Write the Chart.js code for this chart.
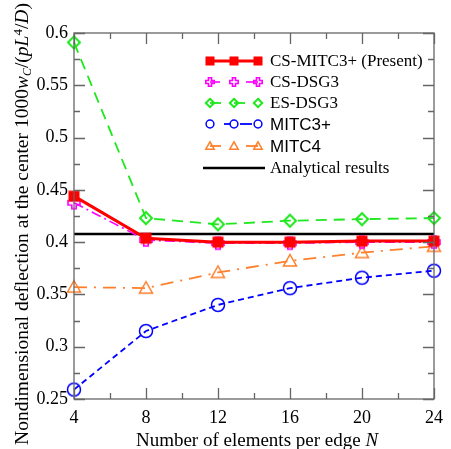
<!DOCTYPE html>
<html><head><meta charset="utf-8">
<script src="https://cdn.jsdelivr.net/npm/chart.js@4/dist/chart.umd.min.js"></script>
<style>html,body{margin:0;padding:0;background:#fff}#wrap{width:451px;height:449px;position:relative}</style>
</head><body><div id="wrap"><canvas id="c" width="451" height="449"></canvas></div>
<script>
const xValues = [4, 8, 12, 16, 20, 24];
const csMitc3 = [0.444, 0.4037, 0.400, 0.400, 0.401, 0.401];
const csDsg3 = [0.4377, 0.402, 0.399, 0.399, 0.400, 0.400];
const esDsg3 = [0.591, 0.423, 0.417, 0.4205, 0.422, 0.423];
const mitc3p = [0.259, 0.315, 0.340, 0.356, 0.366, 0.3727];
const mitc4 = [0.357, 0.356, 0.371, 0.382, 0.390, 0.396];
const analytical = [0.4077, 0.4077, 0.4077, 0.4077, 0.4077, 0.4077];
const xTicks = [4, 8, 12, 16, 20, 24];
const yTicks = [0.25, 0.3, 0.35, 0.4, 0.45, 0.5, 0.55, 0.6];
const yTickLabels = ['0.25', '0.3', '0.35', '0.4', '0.45', '0.5', '0.55', '0.6'];
const seriesNames = ['CS-MITC3+ (Present)', 'CS-DSG3', 'ES-DSG3', 'MITC3+', 'MITC4', 'Analytical results'];

const SERIF = '"Liberation Serif", "Times New Roman", serif';
const SANS = '"Liberation Sans", Arial, sans-serif';

function drawMarker(ctx, kind, x, y, color, sc) {
  sc = sc || 1;
  ctx.save();
  ctx.setLineDash([]);
  ctx.strokeStyle = color; ctx.fillStyle = color;
  if (kind === 'square') {
    const h = 5.5 * sc;
    ctx.fillRect(x - h, y - h, 2 * h, 2 * h);
  } else if (kind === 'plus') {
    ctx.lineWidth = 1.6;
    const a = 2.2 * sc, b = 6 * sc;
    ctx.beginPath();
    ctx.moveTo(x - a, y - b); ctx.lineTo(x + a, y - b); ctx.lineTo(x + a, y - a);
    ctx.lineTo(x + b, y - a); ctx.lineTo(x + b, y + a); ctx.lineTo(x + a, y + a);
    ctx.lineTo(x + a, y + b); ctx.lineTo(x - a, y + b); ctx.lineTo(x - a, y + a);
    ctx.lineTo(x - b, y + a); ctx.lineTo(x - b, y - a); ctx.lineTo(x - a, y - a);
    ctx.closePath(); ctx.stroke();
  } else if (kind === 'diamond') {
    ctx.lineWidth = 2;
    const r = 6 * sc;
    ctx.beginPath();
    ctx.moveTo(x, y - r); ctx.lineTo(x + r, y); ctx.lineTo(x, y + r); ctx.lineTo(x - r, y);
    ctx.closePath(); ctx.stroke();
  } else if (kind === 'circle') {
    ctx.lineWidth = 1.5;
    ctx.beginPath(); ctx.arc(x, y, 6.5 * sc, 0, Math.PI * 2); ctx.stroke();
  } else if (kind === 'triangle') {
    ctx.lineWidth = 1.5;
    ctx.beginPath();
    ctx.moveTo(x, y - 6.5 * sc); ctx.lineTo(x + 6.5 * sc, y + 5 * sc); ctx.lineTo(x - 6.5 * sc, y + 5 * sc);
    ctx.closePath(); ctx.stroke();
  }
  ctx.restore();
}
function markerImage(kind, color) {
  const cv = document.createElement('canvas');
  cv.width = 18; cv.height = 18;
  drawMarker(cv.getContext('2d'), kind, 9, 9, color, 1);
  return cv;
}

const styles = [
  {color: '#ff0000', dash: [], width: 3, marker: 'square', font: SERIF, ms: 0.82, segs: [[210, 258]]},
  {color: '#ff00ff', dash: [10, 4, 2, 4], width: 1.6, marker: 'plus', font: SERIF, ms: 0.7, segs: [[210, 220], [246, 258]]},
  {color: '#1ee81e', dash: [11, 7], width: 1.8, marker: 'diamond', font: SERIF, ms: 0.7, segs: [[210, 221], [234, 245]]},
  {color: '#0000ff', dash: [6, 4], width: 1.8, marker: 'circle', font: SANS, ms: 0.6, segs: [[224, 230], [240, 252]]},
  {color: '#ff7f2a', dash: [13, 7, 2, 7], width: 1.8, marker: 'triangle', font: SANS, ms: 0.65, segs: [[210, 221], [246, 258]]},
  {color: '#000000', dash: [], width: 2.5, marker: null, font: SERIF, segs: [[203, 265]]}
];
const dataArrays = [csMitc3, csDsg3, esDsg3, mitc3p, mitc4, analytical];

const datasets = dataArrays.map((arr, i) => {
  const s = styles[i];
  return {
    label: seriesNames[i],
    data: xValues.map((x, j) => ({x: x, y: arr[j]})),
    borderColor: s.color,
    backgroundColor: s.color,
    borderWidth: s.width,
    borderDash: s.dash,
    pointStyle: s.marker ? markerImage(s.marker, s.color) : false,
    pointRadius: s.marker ? 7 : 0,
    tension: 0,
    clip: false
  };
});

function drawSegs(ctx, segs, cx, y, size) {
  let total = 0;
  const meas = segs.map(s => {
    ctx.font = (s[1] === 'italic' ? 'italic ' : '') + (s[2] || size) + 'px ' + SERIF;
    const w = ctx.measureText(s[0]).width; total += w; return w;
  });
  let x = cx - total / 2;
  ctx.textAlign = 'left'; ctx.fillStyle = '#000'; ctx.textBaseline = 'alphabetic';
  segs.forEach((s, i) => {
    ctx.font = (s[1] === 'italic' ? 'italic ' : '') + (s[2] || size) + 'px ' + SERIF;
    ctx.fillText(s[0], x, y + (s[3] || 0));
    x += meas[i];
  });
}

const framePlugin = {
  id: 'frame',
  afterDatasetsDraw(chart) {
    const {ctx, chartArea: a, scales} = chart;
    ctx.save();
    ctx.strokeStyle = '#666'; ctx.lineWidth = 1.3; ctx.setLineDash([]);
    ctx.strokeRect(a.left, a.top, a.right - a.left, a.bottom - a.top);
    ctx.beginPath();
    for (let v = 4; v <= 24; v += 2) {
      const px = Math.round(scales.x.getPixelForValue(v)) + 0.5;
      const L = (v % 4 === 0) ? 11 : 6;
      ctx.moveTo(px, a.bottom); ctx.lineTo(px, a.bottom - L);
      ctx.moveTo(px, a.top); ctx.lineTo(px, a.top + L);
    }
    for (let k = 0; k <= 14; k++) {
      const v = 0.25 + k * 0.025;
      const py = Math.round(scales.y.getPixelForValue(v)) + 0.5;
      const L = (k % 2 === 0) ? 11 : 6;
      ctx.moveTo(a.left, py); ctx.lineTo(a.left + L, py);
      ctx.moveTo(a.right, py); ctx.lineTo(a.right - L, py);
    }
    ctx.stroke();
    ctx.restore();
  },
  afterDraw(chart) {
    const {ctx} = chart;
    ctx.save();
    const rows = [61, 82, 103, 124, 146, 168];
    const xm = [210, 234, 258];
    rows.forEach((ry, i) => {
      const s = styles[i];
      ctx.strokeStyle = s.color; ctx.lineWidth = s.width; ctx.setLineDash([]);
      s.segs.forEach(sg => { ctx.beginPath(); ctx.moveTo(sg[0], ry); ctx.lineTo(sg[1], ry); ctx.stroke(); });
      if (s.marker) xm.forEach(mx => drawMarker(ctx, s.marker, mx, ry, s.color, s.ms));
      ctx.fillStyle = '#000';
      ctx.font = '17px ' + s.font;
      ctx.textBaseline = 'middle'; ctx.textAlign = 'left';
      ctx.fillText(seriesNames[i], 270, ry + 1);
    });
    const segsX = [['Number of elements per edge ', 'normal'], ['N', 'italic']];
    drawSegs(ctx, segsX, 257, 446, 19);
    ctx.restore();
    ctx.save();
    ctx.translate(28, 224);
    ctx.rotate(-Math.PI / 2);
    const segsY = [
      ['Nondimensional deflection at the center 1000', 'normal', 19.5, 0],
      ['w', 'italic', 19.5, 0],
      ['C', 'italic', 12, 3],
      ['/(', 'normal', 19.5, 0],
      ['pL', 'italic', 19.5, 0],
      ['4', 'normal', 13, -6],
      ['/', 'normal', 19.5, 0],
      ['D', 'italic', 19.5, 0],
      [')', 'normal', 19.5, 0]
    ];
    drawSegs(ctx, segsY, 0, 0, 19.5);
    ctx.restore();
  }
};

new Chart(document.getElementById('c'), {
  type: 'line',
  data: {datasets},
  options: {
    responsive: false,
    animation: false,
    layout: {padding: {left: 0, right: 9, top: 33, bottom: 0}},
    plugins: {legend: {display: false}, tooltip: {enabled: false}},
    scales: {
      x: {
        type: 'linear', min: 4, max: 24,
        afterBuildTicks: s => { s.ticks = xTicks.map(v => ({value: v})); },
        afterFit: s => { s.height = 50; },
        grid: {display: false, drawTicks: false},
        border: {display: false},
        ticks: {color: '#000', padding: 8, font: {family: SERIF, size: 18}, maxRotation: 0, autoSkip: false}
      },
      y: {
        type: 'linear', min: 0.25, max: 0.6,
        afterBuildTicks: s => { s.ticks = yTicks.map(v => ({value: v})); },
        afterFit: s => { s.width = 74; },
        grid: {display: false, drawTicks: false},
        border: {display: false},
        ticks: {color: '#000', padding: 6, font: {family: SERIF, size: 18}, autoSkip: false,
          callback: (v, i) => yTickLabels[i]}
      }
    }
  },
  plugins: [framePlugin]
});
</script>
</body></html>
